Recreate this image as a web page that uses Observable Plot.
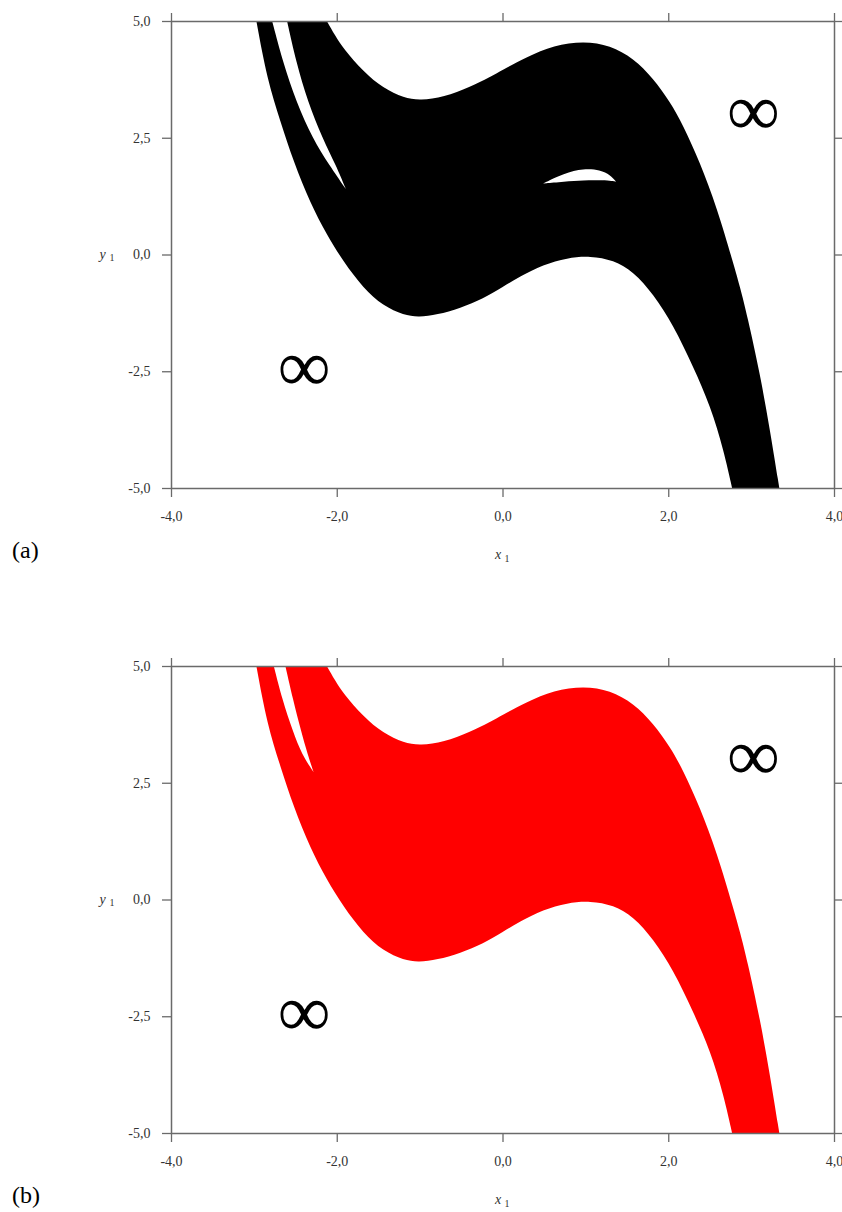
<!DOCTYPE html>
<html>
<head>
<meta charset="utf-8">
<script src="https://cdn.jsdelivr.net/npm/d3@7"></script>
<script src="https://cdn.jsdelivr.net/npm/@observablehq/plot@0.6"></script>
<style>
  html, body { margin: 0; padding: 0; background: white; overflow: hidden; }
  #wrap { position: relative; width: 842px; height: 1212px; }
  .panel { position: absolute; left: 0; }
  .tag { position: absolute; left: 12px; font-family: "Liberation Serif", serif; font-size: 24px; line-height: 24px; color: #000; }
</style>
</head>
<body>
<div id="wrap"></div>
<script>
// ---- axes ----
const xTicks = [-4, -2, 0, 2, 4];
const yTicks = [-5, -2.5, 0, 2.5, 5];
const xDomain = [-4, 4];
const yDomain = [-5, 5];

// ---- outer boundary of the bounded-orbit region ----
const lowerX = [-2.97, -2.84, -2.68, -2.52, -2.32, -2.12, -1.92, -1.68, -1.44, -1.19, -1.01, -0.79, -0.51, -0.23, 0.00, 0.21, 0.49, 0.78, 1.06, 1.34, 1.58, 1.82, 2.06, 2.30, 2.51, 2.67, 2.77];
const lowerY = [5.00, 3.75, 2.85, 1.98, 1.10, 0.42, -0.15, -0.72, -1.10, -1.30, -1.34, -1.29, -1.15, -0.94, -0.70, -0.47, -0.22, -0.07, -0.03, -0.12, -0.37, -0.85, -1.51, -2.40, -3.25, -4.20, -5.00];
const upperX = [-2.12, -2.02, -1.92, -1.68, -1.44, -1.19, -0.99, -0.71, -0.39, -0.15, 0.00, 0.29, 0.62, 0.98, 1.30, 1.58, 1.82, 2.02, 2.18, 2.38, 2.59, 2.79, 2.87, 2.95, 3.11, 3.23, 3.34];
const upperY = [5.00, 4.69, 4.41, 3.92, 3.56, 3.35, 3.30, 3.37, 3.59, 3.80, 3.95, 4.23, 4.48, 4.57, 4.48, 4.20, 3.77, 3.27, 2.77, 1.98, 0.99, -0.22, -0.72, -1.29, -2.58, -3.79, -5.00];

// ---- holes, panel (a) ----
const sliverAY = [5.00, 4.12, 3.27, 2.48, 1.91, 1.40];
const sliverALeft = [-2.78, -2.65, -2.49, -2.29, -2.09, -1.89];
const sliverARight = [-2.60, -2.49, -2.35, -2.17, -2.01, -1.89];
const crescentX = [0.49, 0.74, 0.98, 1.18, 1.30, 1.37];
const crescentLow = [1.52, 1.56, 1.59, 1.59, 1.58, 1.56];
const crescentHigh = [1.52, 1.74, 1.84, 1.81, 1.70, 1.56];

// ---- holes, panel (b) ----
const sliverBY = [5.00, 4.30, 3.60, 3.10, 2.73];
const sliverBLeft = [-2.76, -2.66, -2.53, -2.42, -2.28];
const sliverBRight = [-2.62, -2.53, -2.43, -2.35, -2.28];

// ---- infinity markers ----
const infX = [3.02, -2.40];
const infY = [3.07, -2.41];
const infText = ["∞", "∞"];

const panels = [
  {tag: "(a)", color: "#000000", top: 0, sliver: [sliverAY, sliverALeft, sliverARight], crescent: true},
  {tag: "(b)", color: "#ff0000", top: 645, sliver: [sliverBY, sliverBLeft, sliverBRight], crescent: false}
];

const fmt = d => d.toFixed(1).replace(".", ",");
const axisGray = "#6a6a6a";
const H = 567;
const plotBottom = 488;

function idx(n) { return d3.range(n); }

function makePanel(p) {
  const [sy, sl, sr] = p.sliver;
  const marks = [
    Plot.area(idx(lowerX.length), {
      x1: i => lowerX[i], y1: i => lowerY[i],
      x2: i => upperX[i], y2: i => upperY[i],
      fill: p.color, curve: "basis", clip: true
    }),
    Plot.areaX(idx(sy.length), {
      y: i => sy[i], x1: i => sl[i], x2: i => sr[i],
      fill: "white", curve: "basis", clip: true
    })
  ];
  if (p.crescent) {
    marks.push(Plot.areaY(idx(crescentX.length), {
      x: i => crescentX[i], y1: i => crescentLow[i], y2: i => crescentHigh[i],
      fill: "white", curve: "basis"
    }));
  }
  marks.push(
    Plot.text(idx(infX.length), {
      x: i => infX[i], y: i => infY[i], text: i => infText[i],
      fontSize: 74, fontFamily: "Liberation Serif", fill: "black"
    }),
    Plot.frame({stroke: axisGray, strokeWidth: 1.5}),
    Plot.axisX({anchor: "bottom", ticks: xTicks, tickFormat: fmt, tickSize: 9, tickPadding: 14, stroke: axisGray, strokeWidth: 1.3, fill: "#333", fontSize: 14, label: null}),
    Plot.axisX({anchor: "top", ticks: xTicks, tickFormat: () => "", tickSize: 9, stroke: axisGray, strokeWidth: 1.3, label: null}),
    Plot.axisY({anchor: "left", ticks: yTicks, tickFormat: fmt, tickSize: 9, tickPadding: 12, stroke: axisGray, strokeWidth: 1.3, fill: "#333", fontSize: 14, label: null}),
    Plot.axisY({anchor: "right", ticks: yTicks, tickFormat: () => "", tickSize: 9, stroke: axisGray, strokeWidth: 1.3, label: null}),
    // axis titles: italic variable + subscript index
    Plot.text(["x"], {frameAnchor: "bottom", dx: -5, dy: 70, fontStyle: "italic", fontSize: 14, fill: "#333"}),
    Plot.text(["1"], {frameAnchor: "bottom", dx: 4, dy: 73, fontSize: 10, fill: "#333"}),
    Plot.text(["y"], {frameAnchor: "left", dx: -72, dy: 0, fontStyle: "italic", fontSize: 14, fill: "#333"}),
    Plot.text(["1"], {frameAnchor: "left", dx: -62, dy: 3, fontSize: 10, fill: "#333"})
  );
  return Plot.plot({
    width: 842,
    height: H,
    marginLeft: 171,
    marginRight: 8,
    marginTop: 21,
    marginBottom: H - plotBottom,
    x: {domain: xDomain},
    y: {domain: yDomain},
    style: {fontFamily: "Liberation Serif", fontSize: "14px", background: "white", color: "#333"},
    marks
  });
}

const wrap = document.getElementById("wrap");
for (const p of panels) {
  const div = document.createElement("div");
  div.className = "panel";
  div.style.top = p.top + "px";
  div.appendChild(makePanel(p));
  wrap.appendChild(div);
  const t = document.createElement("div");
  t.className = "tag";
  t.textContent = p.tag;
  t.style.top = (p.top + 538) + "px";
  wrap.appendChild(t);
}
</script>
</body>
</html>
